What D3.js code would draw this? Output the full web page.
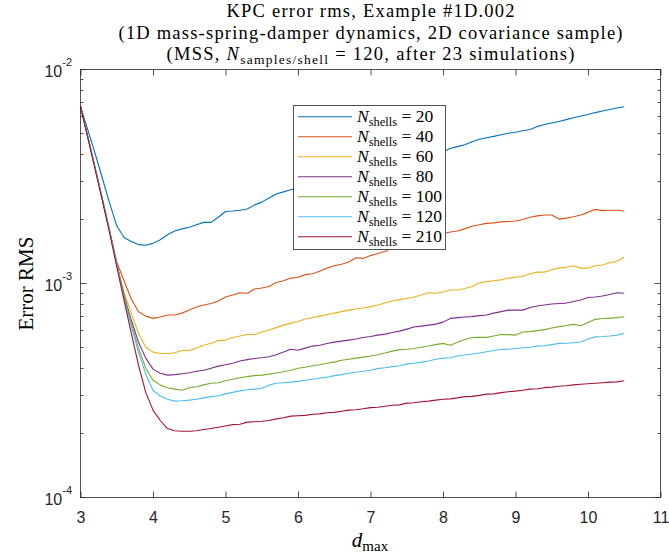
<!DOCTYPE html>
<html>
<head>
<meta charset="utf-8">
<script src="https://cdn.jsdelivr.net/npm/d3@7"></script>
<style>
body { margin: 0; background: #fff; }
svg { display: block; }
.serif { font-family: "Liberation Serif", "DejaVu Serif", serif; fill: #000; }
.sans { font-family: "Liberation Sans", Arial, sans-serif; fill: #262626; }
</style>
</head>
<body>
<div id="chart"></div>
<script>
// d_max grid
var dmax = [3.0, 3.1, 3.2, 3.3, 3.4, 3.5, 3.6, 3.7, 3.8, 3.9,
	4.0, 4.1, 4.2, 4.3, 4.4, 4.5, 4.6, 4.7, 4.8, 4.9,
	5.0, 5.1, 5.2, 5.3, 5.4, 5.5, 5.6, 5.7, 5.8, 5.9,
	6.0, 6.1, 6.2, 6.3, 6.4, 6.5, 6.6, 6.7, 6.8, 6.9,
	7.0, 7.1, 7.2, 7.3, 7.4, 7.5, 7.6, 7.7, 7.8, 7.9,
	8.0, 8.1, 8.2, 8.3, 8.4, 8.5, 8.6, 8.7, 8.8, 8.9,
	9.0, 9.1, 9.2, 9.3, 9.4, 9.5, 9.6, 9.7, 9.8, 9.9,
	10.0, 10.1, 10.2, 10.3, 10.4, 10.5];

// error rms, in units of 1e-4
var unit = 1e-4;
var rms20 = [67.3, 52.4, 40.6, 31.2, 23.8, 18.6, 16.4, 15.7, 15.2, 15.1,
	15.4, 16.0, 16.9, 17.6, 18.0, 18.3, 18.8, 19.3, 19.3, 20.4,
	21.7, 21.8, 22.0, 22.3, 23.3, 24.0, 25.1, 26.2, 26.8, 27.4,
	27.9, 28.4, 29.0, 29.6, 30.2, 30.8, 31.5, 32.0, 32.6, 33.3,
	34.0, 34.7, 35.3, 35.8, 36.6, 37.3, 37.9, 38.7, 39.5, 40.4,
	41.3, 42.7, 43.6, 44.5, 46.0, 47.2, 48.0, 48.7, 49.6, 50.4,
	50.9, 51.7, 52.4, 54.1, 55.3, 56.2, 57.2, 58.3, 59.5, 60.6,
	61.6, 62.9, 64.0, 65.0, 66.1, 67.0];
var rms40 = [67.3, 48.6, 34.8, 24.9, 17.8, 12.6, 10.3, 8.46, 7.38, 7.04,
	6.87, 6.97, 7.12, 7.12, 7.27, 7.51, 7.76, 7.93, 8.06, 8.28,
	8.65, 8.83, 9.06, 9.00, 9.42, 9.53, 9.68, 10.1, 10.3, 10.6,
	10.7, 11.0, 11.1, 11.4, 11.8, 12.1, 12.3, 12.6, 13.2, 13.1,
	13.5, 13.8, 14.1, 14.7, 15.1, 15.5, 15.8, 16.1, 16.4, 16.7,
	17.1, 17.4, 17.6, 18.0, 18.5, 18.8, 19.1, 19.2, 19.4, 19.5,
	19.6, 19.9, 20.4, 20.7, 20.9, 20.9, 20.0, 20.2, 20.5, 20.9,
	21.5, 22.2, 21.9, 22.0, 22.0, 21.8];
var rms60 = [67.3, 48.6, 34.8, 24.9, 17.6, 12.3, 9.12, 7.27, 5.86, 5.04,
	4.78, 4.71, 4.70, 4.75, 4.86, 4.86, 4.99, 5.15, 5.26, 5.41,
	5.44, 5.59, 5.68, 5.78, 5.78, 5.93, 6.06, 6.22, 6.39, 6.53,
	6.64, 6.82, 6.93, 7.04, 7.16, 7.27, 7.39, 7.51, 7.60, 7.68,
	7.80, 7.93, 8.10, 8.28, 8.41, 8.51, 8.65, 8.83, 9.06, 9.00,
	9.12, 9.32, 9.32, 9.48, 9.68, 10.05, 10.2, 10.3, 10.4, 10.6,
	10.7, 10.8, 11.1, 11.3, 11.3, 11.6, 11.8, 11.9, 12.1, 11.8,
	11.8, 12.1, 12.2, 12.5, 12.7, 13.3];
var rms80 = [67.3, 48.6, 34.8, 24.9, 17.6, 12.3, 8.83, 6.75, 5.32, 4.48,
	3.98, 3.81, 3.73, 3.75, 3.79, 3.83, 3.89, 3.93, 4.02, 4.11,
	4.17, 4.24, 4.34, 4.41, 4.46, 4.50, 4.55, 4.65, 4.78, 4.93,
	4.88, 4.99, 5.10, 5.15, 5.24, 5.32, 5.38, 5.44, 5.50, 5.59,
	5.65, 5.74, 5.80, 5.90, 5.99, 6.12, 6.26, 6.32, 6.39, 6.46,
	6.60, 6.87, 6.93, 6.97, 7.00, 7.08, 7.12, 7.27, 7.39, 7.51,
	7.51, 7.51, 7.72, 7.85, 7.93, 8.02, 8.06, 8.10, 8.24, 8.37,
	8.60, 8.65, 8.74, 8.88, 9.06, 9.00];
var rms100 = [67.3, 48.6, 34.8, 24.9, 17.6, 12.3, 8.74, 6.53, 4.99, 4.02,
	3.53, 3.35, 3.26, 3.21, 3.17, 3.26, 3.29, 3.36, 3.42, 3.44,
	3.51, 3.57, 3.63, 3.67, 3.71, 3.73, 3.77, 3.82, 3.87, 3.93,
	4.02, 4.06, 4.13, 4.17, 4.24, 4.29, 4.38, 4.43, 4.48, 4.53,
	4.58, 4.65, 4.73, 4.83, 4.91, 4.93, 4.97, 5.04, 5.10, 5.18,
	5.25, 5.15, 5.32, 5.47, 5.59, 5.60, 5.60, 5.68, 5.78, 5.77,
	5.74, 5.93, 5.96, 6.02, 6.09, 6.19, 6.29, 6.36, 6.44, 6.35,
	6.57, 6.80, 6.86, 6.89, 6.93, 6.99];
var rms120 = [67.3, 48.6, 34.8, 24.9, 17.6, 12.3, 8.55, 6.32, 4.78, 3.77,
	3.17, 2.98, 2.88, 2.82, 2.83, 2.85, 2.88, 2.92, 2.96, 2.99,
	3.05, 3.10, 3.15, 3.19, 3.21, 3.24, 3.35, 3.42, 3.44, 3.46,
	3.49, 3.53, 3.57, 3.61, 3.65, 3.71, 3.75, 3.81, 3.85, 3.89,
	3.93, 4.00, 4.04, 4.09, 4.13, 4.20, 4.24, 4.29, 4.34, 4.43,
	4.48, 4.50, 4.58, 4.63, 4.68, 4.73, 4.80, 4.86, 4.92, 4.93,
	4.97, 5.01, 5.04, 5.10, 5.12, 5.18, 5.25, 5.26, 5.29, 5.33,
	5.50, 5.63, 5.65, 5.68, 5.74, 5.85];
var rms210 = [67.3, 48.2, 34.4, 24.5, 17.4, 12.0, 8.37, 5.86, 4.15, 3.10,
	2.56, 2.29, 2.10, 2.05, 2.04, 2.04, 2.05, 2.08, 2.10, 2.13,
	2.16, 2.19, 2.20, 2.25, 2.26, 2.27, 2.29, 2.33, 2.36, 2.40,
	2.41, 2.42, 2.45, 2.46, 2.49, 2.50, 2.53, 2.56, 2.57, 2.60,
	2.63, 2.64, 2.67, 2.70, 2.71, 2.76, 2.77, 2.80, 2.82, 2.85,
	2.88, 2.89, 2.92, 2.96, 2.97, 3.00, 3.04, 3.05, 3.09, 3.12,
	3.14, 3.17, 3.21, 3.22, 3.26, 3.28, 3.31, 3.33, 3.36, 3.38,
	3.40, 3.42, 3.44, 3.46, 3.47, 3.51];

var shells = [20, 40, 60, 80, 100, 120, 210];
var colors = ["#0072BD", "#D95319", "#EDB120", "#7E2F8E", "#77AC30", "#4DBEEE", "#A2142F"];
var xTicks = [3, 4, 5, 6, 7, 8, 9, 10, 11];

var series = [rms20, rms40, rms60, rms80, rms100, rms120, rms210].map(function(v, i)
{
	return {n: shells[i], color: colors[i], values: v};
});

var width = 669, height = 554;
var box = {left: 80.5, right: 660.5, top: 69.5, bottom: 497.5};

var x = d3.scaleLinear().domain([3, 11]).range([box.left, box.right]);
var y = d3.scaleLog().domain([1e-4, 1e-2]).range([box.bottom, box.top]);

var svg = d3.select("#chart").append("svg")
	.attr("width", width)
	.attr("height", height);

var axisColor = "#262626";

// curves
var valueline = d3.line()
	.x(function(d) { return x(d[0]); })
	.y(function(d) { return y(d[1] * unit); });

svg.append("g")
	.selectAll("path")
	.data(series)
	.enter()
	.append("path")
	.attr("d", function(s) { return valueline(dmax.map(function(v, i) { return [v, s.values[i]]; })); })
	.attr("fill", "none")
	.attr("stroke", function(s) { return s.color; })
	.attr("stroke-width", 1.1)
	.attr("stroke-linejoin", "round");

// axis box
svg.append("rect")
	.attr("x", box.left).attr("y", box.top)
	.attr("width", box.right - box.left).attr("height", box.bottom - box.top)
	.attr("fill", "none").attr("stroke", axisColor).attr("stroke-width", 0.8)
	.attr("shape-rendering", "crispEdges");

// x ticks, bottom with labels, top mirrored
var xb = svg.append("g")
	.attr("transform", "translate(0," + box.bottom + ")")
	.call(d3.axisBottom(x).tickValues(xTicks).tickSizeInner(-6).tickSizeOuter(0).tickFormat(d3.format("d")));
var xt = svg.append("g")
	.attr("transform", "translate(0," + box.top + ")")
	.call(d3.axisTop(x).tickValues(xTicks).tickSizeInner(-6).tickSizeOuter(0).tickFormat(""));
[xb, xt].forEach(function(g)
{
	g.select(".domain").remove();
	g.selectAll(".tick line").attr("stroke", axisColor).attr("stroke-width", 0.8);
});
xb.selectAll(".tick text")
	.attr("class", "sans")
	.attr("y", 25).attr("dy", null)
	.style("font-size", "16px")
	.attr("fill", axisColor);

// y ticks (log, major + minor) on both sides
var yTicks = y.ticks();
function isMajor(d) { var l = Math.log10(d); return Math.abs(l - Math.round(l)) < 1e-6; }

[{x0: box.left, dir: 1}, {x0: box.right, dir: -1}].forEach(function(side)
{
	svg.append("g")
		.selectAll("line")
		.data(yTicks)
		.enter()
		.append("line")
		.attr("x1", side.x0)
		.attr("x2", function(d) { return side.x0 + side.dir * (isMajor(d) ? 6 : 3); })
		.attr("y1", function(d) { return Math.round(y(d) - 0.5) + 0.5; })
		.attr("y2", function(d) { return Math.round(y(d) - 0.5) + 0.5; })
		.attr("stroke", axisColor)
		.attr("stroke-width", 0.8);
});

var ylab = svg.append("g")
	.selectAll("text")
	.data(yTicks.filter(isMajor))
	.enter()
	.append("text")
	.attr("class", "sans")
	.attr("x", 72)
	.attr("y", function(d) { return y(d) + 7; })
	.attr("text-anchor", "end")
	.style("font-size", "16px");
ylab.append("tspan").text("10");
ylab.append("tspan")
	.attr("dy", -10.5)
	.style("font-size", "11px")
	.text(function(d) { return "-" + Math.round(-Math.log10(d)); });

// axis titles
var xl = svg.append("text")
	.attr("class", "serif")
	.attr("x", 370).attr("y", 547)
	.attr("text-anchor", "middle")
	.style("font-size", "21px");
xl.append("tspan").style("font-style", "italic").text("d");
xl.append("tspan").attr("dy", 4).style("font-size", "15px").text("max");

svg.append("text")
	.attr("class", "serif")
	.attr("transform", "translate(33,283.5) rotate(-90)")
	.attr("text-anchor", "middle")
	.style("font-size", "21px")
	.text("Error RMS");

// title, three lines
var title = svg.append("g").attr("class", "serif").style("font-size", "18.5px");
title.append("text").attr("x", 370.5).attr("y", 17).attr("text-anchor", "middle")
	.attr("textLength", 288).attr("lengthAdjust", "spacing")
	.text("KPC error rms, Example #1D.002");
title.append("text").attr("x", 370.5).attr("y", 38.5).attr("text-anchor", "middle")
	.attr("textLength", 504).attr("lengthAdjust", "spacing")
	.text("(1D mass-spring-damper dynamics, 2D covariance sample)");
var t3 = title.append("text").attr("x", 370.5).attr("y", 60).attr("text-anchor", "middle")
	.attr("textLength", 408).attr("lengthAdjust", "spacing");
t3.append("tspan").text("(MSS, ");
t3.append("tspan").style("font-style", "italic").text("N");
t3.append("tspan").attr("dy", 3.5).style("font-size", "13.5px").text("samples/shell");
t3.append("tspan").attr("dy", -3.5).text(" = 120, after 23 simulations)");

// legend
var legend = {left: 293.5, top: 105.5, right: 445.5, bottom: 249.5, row0: 116.7, step: 20};
svg.append("rect")
	.attr("x", legend.left).attr("y", legend.top)
	.attr("width", legend.right - legend.left).attr("height", legend.bottom - legend.top)
	.attr("fill", "#fff").attr("stroke", axisColor).attr("stroke-width", 0.8)
	.attr("shape-rendering", "crispEdges");

var items = svg.append("g")
	.selectAll("g")
	.data(series)
	.enter()
	.append("g")
	.attr("transform", function(d, i) { return "translate(0," + (legend.row0 + i * legend.step) + ")"; });
items.append("line")
	.attr("x1", 298).attr("x2", 352)
	.attr("stroke", function(d) { return d.color; })
	.attr("stroke-width", 1.1);
var lt = items.append("text")
	.attr("class", "serif")
	.attr("x", 357).attr("y", 5.5)
	.style("font-size", "17.5px");
lt.append("tspan").style("font-style", "italic").text("N");
lt.append("tspan").attr("dy", 3.5).style("font-size", "12.5px").text("shells");
lt.append("tspan").attr("dy", -3.5).text(function(d) { return " = " + d.n; });
</script>
</body>
</html>
